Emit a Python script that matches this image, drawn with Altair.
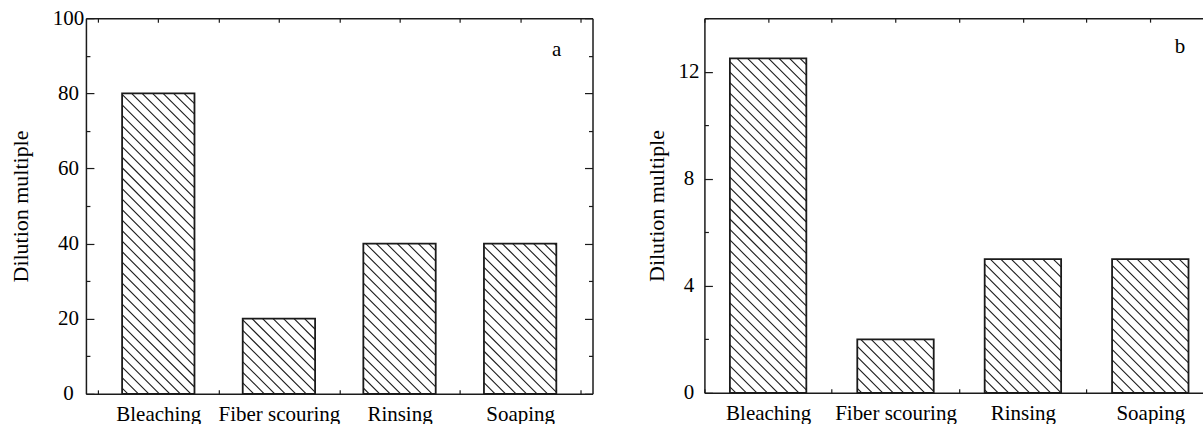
import json
import numpy as np
import pandas as pd
import altair as alt

# ---------------- data ----------------
categories = ["Bleaching", "Fiber scouring", "Rinsing", "Soaping"]
dilution_a = [80, 20, 40, 40]
dilution_b = [12.5, 2, 5, 5]
y_major_a = [0, 20, 40, 60, 80, 100]
y_ticks_a = [0, 10, 20, 30, 40, 50, 60, 70, 80, 90, 100]
y_major_b = [0, 4, 8, 12]
y_ticks_b = [0, 2, 4, 6, 8, 10, 12, 14]
x_ticks = [0.5, 1.0, 1.5, 2.0, 2.5, 3.0, 3.5, 4.0, 4.5]
panel_letters = ["a", "b"]
y_title = "Dilution multiple"

# ---------------- style ----------------
FONT = "Liberation Serif"
INK = "#1b1b1b"
FS = 21
FS_TITLE = 22
HATCH_STEP = 10.5   # px between hatch lines (horizontal)
HALF = 0.3          # half bar width in category units

label_expr = json.dumps(categories) + "[round(datum.value) - 1]"


def panel(values, letter, xdom, ydom, major, ticks, major_step, W, H,
          label_pad, title_pad, letter_xy, right_frame=True):
    pos = [i + 1 for i in range(len(categories))]
    bars = pd.DataFrame({
        "cat": categories,
        "x0": [p - HALF for p in pos],
        "x1": [p + HALF for p in pos],
        "val": values,
        "base": [0] * len(values),
    })
    # hatch segments ("\" direction) derived from the bar values
    pxx = W / (xdom[1] - xdom[0])
    pxy = H / (ydom[1] - ydom[0])
    rows = []
    for p, v in zip(pos, values):
        ul = (p - HALF - xdom[0]) * pxx
        ur = (p + HALF - xdom[0]) * pxx
        vt = (v - ydom[0]) * pxy
        for k in range(int(np.ceil(ul / HATCH_STEP)), int(np.floor((ur + vt) / HATCH_STEP)) + 1):
            c = k * HATCH_STEP
            ua, ub = max(ul, c - vt), min(ur, c)
            if ub - ua < 0.5:
                continue
            rows.append({
                "hx": xdom[0] + ua / pxx, "hy": ydom[0] + (c - ua) / pxy,
                "hx2": xdom[0] + ub / pxx, "hy2": ydom[0] + (c - ub) / pxy,
            })
    hatch = pd.DataFrame(rows)

    xs = alt.Scale(domain=xdom, nice=False, zero=False)
    ys = alt.Scale(domain=ydom, nice=False, zero=False)
    common = dict(labelFont=FONT, titleFont=FONT, labelColor="black",
                  titleColor="black", domainColor=INK, domainWidth=1.5,
                  tickColor=INK, tickWidth=1.2, grid=False)
    xt = [t for t in x_ticks if xdom[0] <= t <= xdom[1]]
    ytick_size = {"condition": {"test": f"datum.value % {major_step} === 0", "value": 8}, "value": 4}

    fill = alt.Chart(bars).mark_rect(fill="white", strokeWidth=0).encode(
        x=alt.X("x0:Q", scale=xs, axis=alt.Axis(
            orient="bottom", values=pos, labelExpr=label_expr, ticks=False,
            labelPadding=10, labelFontSize=FS, labelOverlap=False,
            labelFlush=False, labelBound=False, title=None, **common)),
        x2="x1:Q",
        y=alt.Y("val:Q", scale=ys, axis=alt.Axis(
            orient="left", values=major, ticks=False, labelAlign="center",
            labelBaseline="middle", labelPadding=label_pad, labelFontSize=FS,
            title=y_title, titleFontSize=FS_TITLE, titleFontWeight="normal",
            titlePadding=title_pad, **common)),
        y2="base:Q",
    )

    hl = alt.Chart(hatch).mark_rule(color=INK, strokeWidth=1.1).encode(
        x=alt.X("hx:Q", scale=xs, axis=alt.Axis(
            orient="top", offset=-H, values=xt, tickSize=4, labels=False,
            domain=False, title=None, **common)),
        x2="hx2:Q",
        y=alt.Y("hy:Q", scale=ys, axis=alt.Axis(
            orient="right", offset=-W, values=ticks, tickSize=ytick_size,
            labels=False, domain=False, title=None, **common)),
        y2="hy2:Q",
    )

    ol = alt.Chart(bars).mark_rect(fillOpacity=0, stroke=INK, strokeWidth=1.8).encode(
        x=alt.X("x0:Q", scale=xs, axis=alt.Axis(
            orient="bottom", offset=-H, values=xt, tickSize=4, labels=False,
            domain=True, title=None, **common)),
        x2="x1:Q",
        y=alt.Y("val:Q", scale=ys, axis=alt.Axis(
            orient="left", offset=-W, values=ticks, tickSize=ytick_size,
            ticks=right_frame, labels=False, domain=right_frame, title=None,
            **common)),
        y2="base:Q",
    )

    tx = alt.Chart(pd.DataFrame({"t": [letter]})).mark_text(
        font=FONT, fontSize=FS, color="black", baseline="middle", align="center"
    ).encode(text="t:N", x=alt.value(letter_xy[0]), y=alt.value(letter_xy[1]))

    return alt.layer(fill, hl, ol, tx).resolve_axis(
        x="independent", y="independent").properties(width=W, height=H)


W_A, H_A = 507, 376
W_B, H_B = 499, 375
left = panel(dilution_a, panel_letters[0], [0.4, 4.6], [0, 100], y_major_a,
             y_ticks_a, 20, W_A, H_A, 18, 20, (471, 32))
right = panel(dilution_b, panel_letters[1], [0.5, 0.5 + W_B / 127.5], [0, 14],
              y_major_b, y_ticks_b, 4, W_B, H_B, 16, 9, (476, 29),
              right_frame=False)

chart = alt.hconcat(left, right, spacing=112, bounds="flush").properties(
    padding={"left": 9, "top": 7, "right": 0, "bottom": 0}
).configure_view(stroke=None)

chart.save("out.html", embed_options={"renderer": "svg", "actions": False})
